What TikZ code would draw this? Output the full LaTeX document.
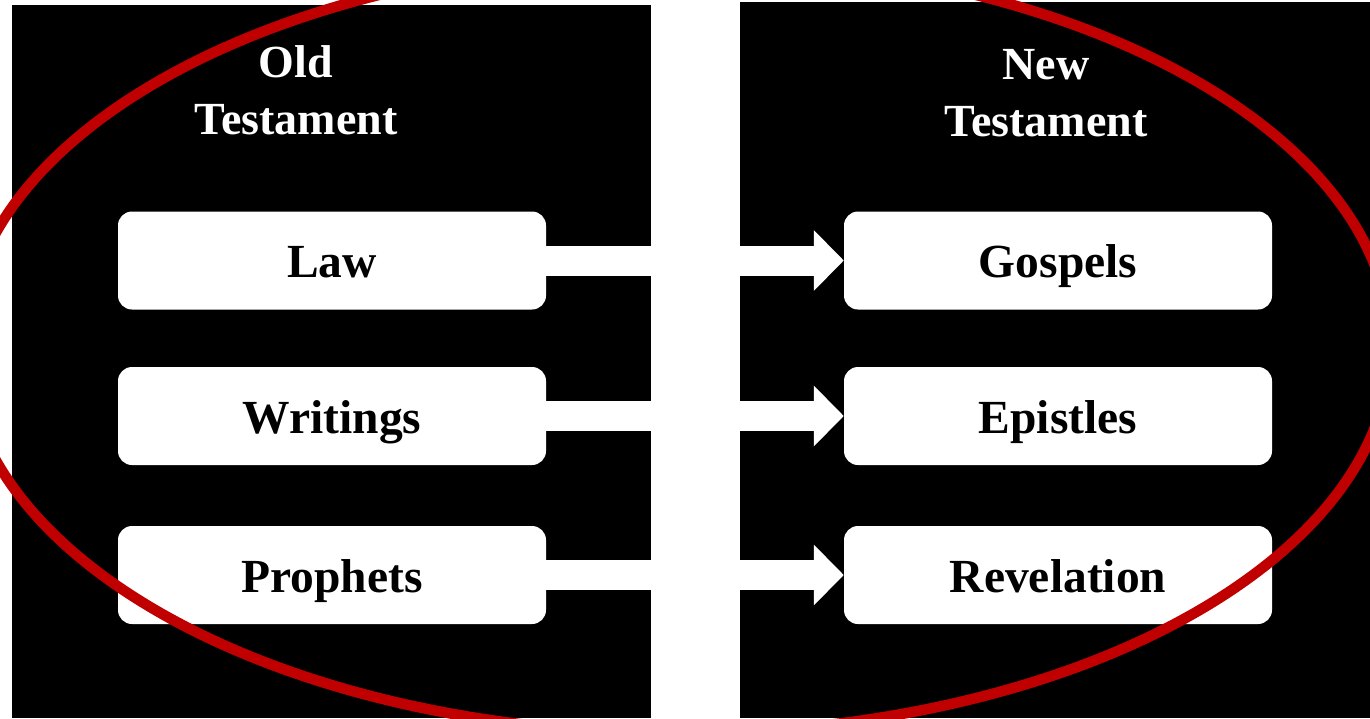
\documentclass[tikz,border=0pt]{standalone}
\usepackage{fontspec}
\setmainfont{Liberation Serif}
\usetikzlibrary{arrows.meta}
\definecolor{ringred}{HTML}{C00000}
\begin{document}
\begin{tikzpicture}[x=1pt,y=-1pt,
  panel/.style={fill=black},
  item/.style={fill=white, rounded corners=14pt, minimum width=428pt, minimum height=98pt,
    inner sep=0pt, text height=34pt, text depth=0pt, text=black,
    font=\fontsize{47.5}{50}\selectfont\bfseries},
  title/.style={text=white, align=center, inner sep=0pt,
    font=\fontsize{46}{57}\selectfont\bfseries},
  link/.style={draw=white, line width=30pt, -{Triangle[length=30pt, width=59pt]}},
  ring/.style={draw=ringred, line width=10.5pt}]
\useasboundingbox (0,0) rectangle (1370,718);
\clip (0,0) rectangle (1370,718);
\fill[white] (0,0) rectangle (1370,718);
% panels
\fill[panel] (12,5) rectangle (651,718);
\fill[panel] (740,2) rectangle (1370,718);
% boxes
\node[item] (law) at (332,260.5) {Law};
\node[item] (writings) at (332,416) {Writings};
\node[item] (prophets) at (332,575) {Prophets};
\node[item] (gospels) at (1058,260.5) {Gospels};
\node[item] (epistles) at (1058,416) {Epistles};
\node[item] (revelation) at (1058,575) {Revelation};
% arrows
\draw[link] (law.east) -- (gospels.west);
\draw[link] (writings.east) -- (epistles.west);
\draw[link] (prophets.east) -- (revelation.west);
% titles
\node[title] (ot) at (296,90) {Old\\Testament};
\node[title] (nt) at (1046,93) {New\\Testament};
% ring
\draw[ring] (677.5,346.5) ellipse [x radius=713pt, y radius=387pt];
\end{tikzpicture}
\end{document}
